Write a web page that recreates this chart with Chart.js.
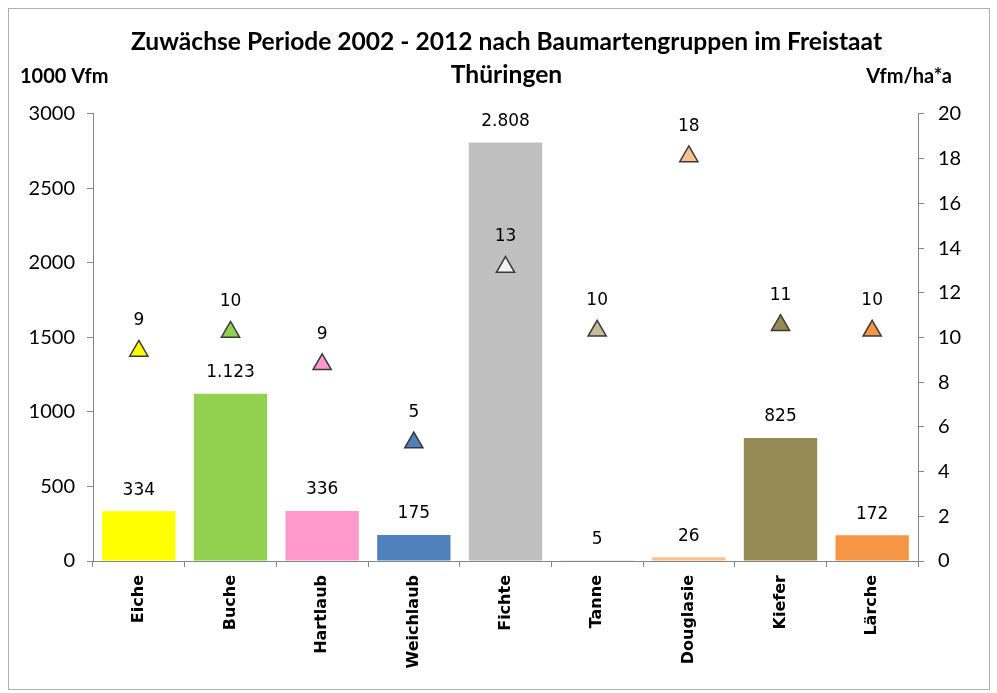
<!DOCTYPE html>
<html>
<head>
<meta charset="utf-8">
<script src="https://cdn.jsdelivr.net/npm/chart.js@4/dist/chart.umd.min.js"></script>
<style>
  html, body { margin: 0; padding: 0; background: #fff; }
</style>
</head>
<body>
<canvas id="grafico" width="997" height="693"></canvas>
<script>
// Daten
const baumarten = ['Eiche', 'Buche', 'Hartlaub', 'Weichlaub', 'Fichte', 'Tanne', 'Douglasie', 'Kiefer', 'Lärche'];
const zuwachsGesamt = [334, 1123, 336, 175, 2808, 5, 26, 825, 172];          // 1000 Vfm
const zuwachsJeHa = [9.4, 10.25, 8.8, 5.3, 13.15, 10.3, 18.1, 10.55, 10.3];  // Vfm/ha*a
const farbenBalken = ['#FFFF00', '#92D050', '#FF99CC', '#4F81BD', '#BFBFBF', '#C4BD97', '#FAC090', '#948A54', '#F79646'];
const farbenDreieck = ['#FFFF00', '#92D050', '#FF99CC', '#4F81BD', '#F2F2F2', '#C4BD97', '#FAC090', '#948A54', '#F79646'];

const titelZeilen = ['Zuwächse Periode 2002 - 2012 nach Baumartengruppen im Freistaat', 'Thüringen'];

function tausender(n) {
  return String(n).replace(/\B(?=(\d{3})+(?!\d))/g, '.');
}

// Rahmen, Werte und Achsentitel
const beschriftung = {
  id: 'beschriftung',
  beforeDraw(chart) {
    const ctx = chart.ctx;
    ctx.save();
    ctx.fillStyle = '#fff';
    ctx.fillRect(0, 0, chart.width, chart.height);
    ctx.strokeStyle = '#B0B0B0';
    ctx.lineWidth = 1;
    ctx.strokeRect(8.5, 8.5, 981, 681);
    ctx.restore();
  },
  afterDatasetsDraw(chart) {
    const ctx = chart.ctx;
    ctx.save();
    ctx.fillStyle = '#000';
    ctx.textAlign = 'center';
    ctx.textBaseline = 'middle';
    ctx.font = '17px "DejaVu Sans"';
    chart.getDatasetMeta(1).data.forEach((bar, i) => {
      ctx.fillText(tausender(zuwachsGesamt[i]), bar.x, bar.y - 21);
    });
    chart.getDatasetMeta(0).data.forEach((pt, i) => {
      ctx.fillText(String(Math.round(zuwachsJeHa[i])), pt.x, pt.y - 30);
    });
    ctx.font = 'bold 20px Lato';
    ctx.textAlign = 'left';
    ctx.fillText('1000 Vfm', 20, 77);
    ctx.textAlign = 'right';
    ctx.fillText('Vfm/ha*a', 952, 77);
    ctx.restore();
  }
};

const achsenFarbe = '#868686';
const zahl = v => String(v);

const ctx = document.getElementById('grafico').getContext('2d');
const miGrafico = new Chart(ctx, {
  type: 'bar',
  data: {
    labels: baumarten,
    datasets: [{
      type: 'line',
      label: 'Vfm/ha*a',
      data: zuwachsJeHa,
      yAxisID: 'y1',
      showLine: false,
      pointStyle: 'triangle',
      pointRadius: 10.5,
      pointBackgroundColor: farbenDreieck,
      pointBorderColor: '#3A3A3A',
      pointBorderWidth: 1.5,
      order: 0
    }, {
      label: '1000 Vfm',
      data: zuwachsGesamt,
      yAxisID: 'y',
      backgroundColor: farbenBalken,
      barPercentage: 0.8,
      categoryPercentage: 1,
      order: 1
    }]
  },
  options: {
    responsive: false,
    animation: false,
    layout: { padding: { left: 16, right: 0, top: 0, bottom: 0 } },
    plugins: {
      legend: { display: false },
      tooltip: { enabled: false },
      title: {
        display: true,
        text: titelZeilen,
        color: '#000',
        font: { family: 'Lato', size: 24.6, weight: 'bold', lineHeight: 1.32 },
        padding: { top: 26, bottom: 23 }
      }
    },
    scales: {
      x: {
        afterFit: s => { s.height = 132; },
        grid: { drawOnChartArea: false, color: achsenFarbe, tickLength: 6 },
        border: { color: achsenFarbe },
        ticks: {
          color: '#000',
          minRotation: 90,
          maxRotation: 90,
          padding: 8,
          font: { family: '"DejaVu Sans"', size: 16, weight: 'bold' }
        }
      },
      y: {
        position: 'left',
        min: 0,
        max: 3000,
        afterFit: s => { s.width = 77; },
        grid: { drawOnChartArea: false, color: achsenFarbe, tickLength: 6 },
        border: { color: achsenFarbe },
        ticks: {
          stepSize: 500,
          color: '#000',
          padding: 12,
          callback: zahl,
          font: { family: 'Lato', size: 20 }
        }
      },
      y1: {
        position: 'right',
        min: 0,
        max: 20,
        afterFit: s => { s.width = 79; },
        grid: { drawOnChartArea: false, color: achsenFarbe, tickLength: 6 },
        border: { color: achsenFarbe },
        ticks: {
          stepSize: 2,
          color: '#000',
          padding: 14,
          callback: zahl,
          font: { family: 'Lato', size: 20 }
        }
      }
    }
  },
  plugins: [beschriftung]
});
</script>
</body>
</html>
